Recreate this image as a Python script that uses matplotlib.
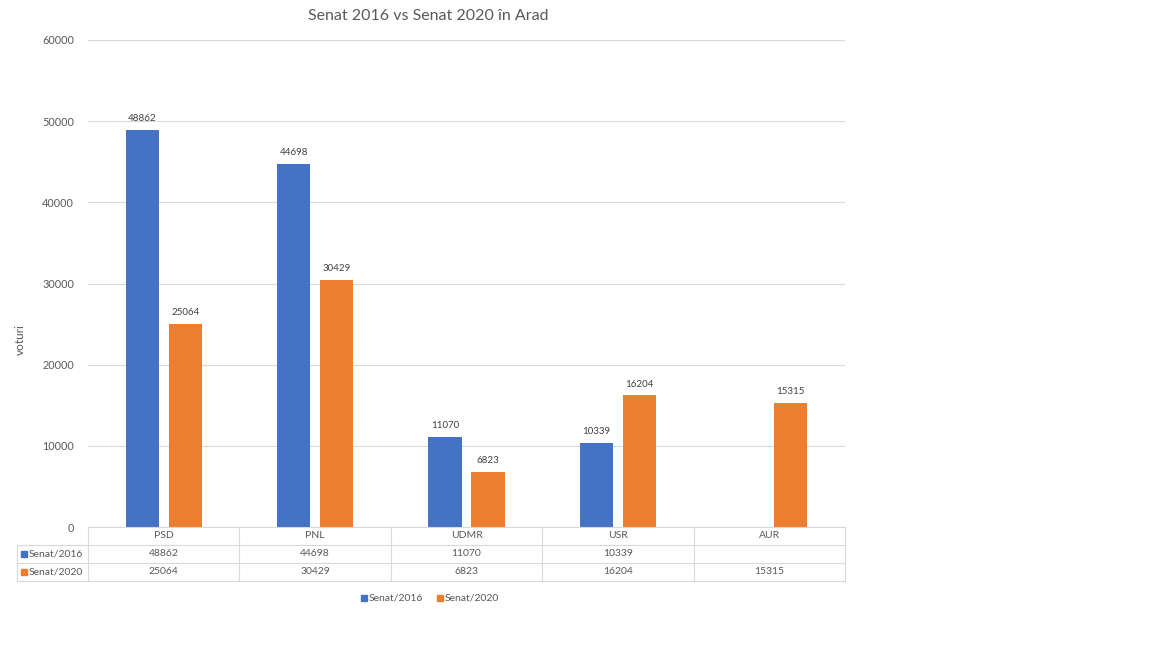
import matplotlib
matplotlib.use("Agg")
import matplotlib.pyplot as plt
from matplotlib.patches import Rectangle
from matplotlib.lines import Line2D
import numpy as np

plt.rcParams['font.family'] = ['Lato', 'DejaVu Sans']

categories = ["PSD", "PNL", "UDMR", "USR", "AUR"]
senat_2016 = [48862, 44698, 11070, 10339, None]
senat_2020 = [25064, 30429, 6823, 16204, 15315]
series_names = ["Senat/2016", "Senat/2020"]
yticks = [0, 10000, 20000, 30000, 40000, 50000, 60000]
title = "Senat 2016 vs Senat 2020 în Arad"
ylabel = "voturi"

BLUE = "#4472C4"
ORANGE = "#ED7D31"
TXT = "#595959"
GRID = "#D9D9D9"

W, H = 1152, 648
fig = plt.figure(figsize=(W / 100, H / 100), dpi=100)

def fx(px):
    return px / W

def fy(py):
    return 1 - py / H

left, right, top, bottom = 88, 845, 40, 527
ax = fig.add_axes([fx(left), fy(bottom), fx(right - left), fy(top) - fy(bottom)])

x = np.arange(len(categories))
bw = 0.22
off = 0.142
v16 = [np.nan if v is None else v for v in senat_2016]
ax.bar(x - off, v16, bw, color=BLUE, zorder=3)
ax.bar(x + off, senat_2020, bw, color=ORANGE, zorder=3)

for i, v in enumerate(senat_2016):
    if v is not None:
        ax.annotate(str(v), (x[i] - off, v), xytext=(0, 5), textcoords="offset points",
                    ha="center", va="bottom", fontsize=7, color="#404040")
for i, v in enumerate(senat_2020):
    ax.annotate(str(v), (x[i] + off, v), xytext=(0, 5), textcoords="offset points",
                ha="center", va="bottom", fontsize=7, color="#404040")

ax.set_xlim(-0.5, len(categories) - 0.5)
ax.set_ylim(0, 60000)
ax.set_yticks(yticks)
ax.set_yticklabels([str(t) for t in yticks], fontsize=7.8, color=TXT)
ax.set_xticks([])
ax.yaxis.grid(True, color=GRID, linewidth=0.8, zorder=0)
for s in ax.spines.values():
    s.set_visible(False)
ax.tick_params(axis="y", length=0, pad=10)

fig.text(fx(20), fy(340), ylabel, rotation=90, ha="center", va="center", fontsize=8.5, color=TXT)
fig.text(fx(428), fy(16), title, ha="center", va="center", fontsize=11.5, color=TXT)

# data table
row_y = [527, 545, 563, 581]
tbl_left = 17
cw = (right - left) / len(categories)
lc = GRID
lw = 0.8
fig.add_artist(Line2D([fx(left), fx(right)], [fy(row_y[0])] * 2, color=lc, lw=lw))
for yy in row_y[1:]:
    fig.add_artist(Line2D([fx(tbl_left), fx(right)], [fy(yy)] * 2, color=lc, lw=lw))
fig.add_artist(Line2D([fx(tbl_left)] * 2, [fy(row_y[1]), fy(row_y[3])], color=lc, lw=lw))
for i in range(len(categories) + 1):
    xx = left + i * cw
    fig.add_artist(Line2D([fx(xx)] * 2, [fy(row_y[0]), fy(row_y[3])], color=lc, lw=lw))

for i, c in enumerate(categories):
    cx = left + (i + 0.5) * cw
    fig.text(fx(cx), fy((row_y[0] + row_y[1]) / 2), c, ha="center", va="center", fontsize=7.5, color=TXT)
    v1 = senat_2016[i]
    if v1 is not None:
        fig.text(fx(cx), fy((row_y[1] + row_y[2]) / 2), str(v1), ha="center", va="center", fontsize=7.5, color=TXT)
    fig.text(fx(cx), fy((row_y[2] + row_y[3]) / 2), str(senat_2020[i]), ha="center", va="center", fontsize=7.5, color=TXT)

for r, (name, col) in enumerate(zip(series_names, [BLUE, ORANGE])):
    yc = (row_y[1 + r] + row_y[2 + r]) / 2
    fig.add_artist(Rectangle((fx(21), fy(yc + 3)), fx(6), fy(yc - 3) - fy(yc + 3), color=col))
    fig.text(fx(29), fy(yc), name, ha="left", va="center", fontsize=7.5, color=TXT)

# legend
for name, col, lx in zip(series_names, [BLUE, ORANGE], [361, 437]):
    yc = 598
    fig.add_artist(Rectangle((fx(lx), fy(yc + 3)), fx(6), fy(yc - 3) - fy(yc + 3), color=col))
    fig.text(fx(lx + 8), fy(yc), name, ha="left", va="center", fontsize=7.5, color=TXT)

fig.savefig("out.png", dpi=100, facecolor="white")
